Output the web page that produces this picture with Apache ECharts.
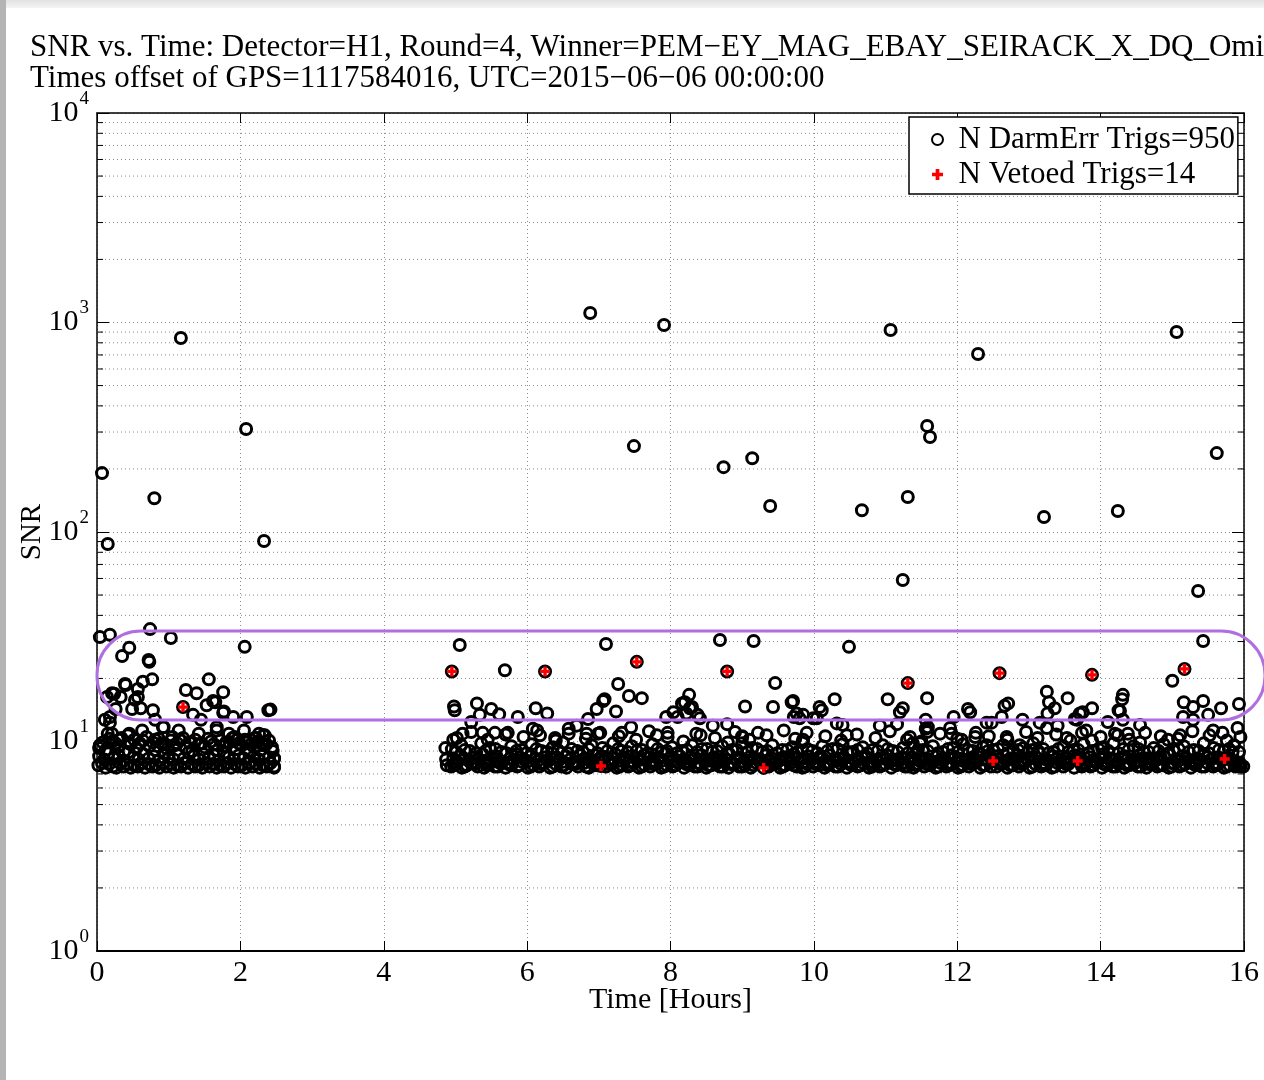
<!DOCTYPE html>
<html>
<head>
<meta charset="utf-8">
<title>SNR vs. Time</title>
<script src="https://cdn.jsdelivr.net/npm/echarts@6.0.0/dist/echarts.min.js"></script>
<style>
  html, body { margin: 0; padding: 0; background: #fff; }
  #main { width: 1264px; height: 1080px; }
</style>
</head>
<body>
<div id="main"></div>
<script>
// [time in hours, SNR]
var outlierTrigs = [
  [0.07,191],[0.15,87.6],[0.80,145],[1.17,843],[2.08,310],[2.33,90.6],[6.88,1110],[7.49,257],
  [7.91,973],[8.74,204],[9.14,225],[9.39,133],[10.67,127],[11.07,921],[11.24,59],[11.31,147],
  [11.58,321],[11.62,284],[12.29,707],[13.21,118],[14.24,126],[15.06,901],[15.36,52.3],[15.62,238]
];

var upperTrigs = [
  [0.04,31.5],[0.18,32.3],[0.74,34.4],[1.03,31.2],[2.06,28.3],[0.35,25.6],[0.45,28.0],[0.72,24.5],[0.73,24.0],
  [0.77,19.8],[0.64,19.3],[0.40,18.6],[0.57,17.8],[0.24,16.9],[0.33,16.3],[0.14,16.3],[0.57,16.3],[1.56,19.8],
  [1.24,17.6],[1.39,17.0],[1.76,17.2],[1.62,15.6],[1.65,15.4],[1.53,14.9],[0.49,14.3],[0.61,14.4],[0.78,14.1],
  [0.26,14.3],[0.18,13.1],[0.18,12.3],[0.15,10.9],[2.39,14.1],[2.42,14.2],[1.34,13.4],[1.77,13.9],[1.76,13.7],
  [1.90,13.1],[2.09,13.1],[0.81,12.7],[0.92,11.7],[1.45,12.7],[1.14,11.3],[0.43,10.7],[1.67,11.7],[1.92,10.5],
  [2.22,10.4],[2.32,10.7],[0.21,17.0],[0.39,18.8],[0.53,15.8],[0.11,12.7],[0.21,10.9],[0.45,10.9],[0.63,11.3],
  [0.93,11.7],[1.05,10.5],[1.42,10.9],[1.67,11.3],[1.84,10.9],[2.05,11.3],[2.26,10.9],[2.34,10.7],[1.95,10.2],
  [2.09,9.9],[2.20,10.4],[2.30,9.8],[2.44,9.4],[2.47,8.3],[2.47,7.6],[0.31,10.2],[0.45,9.8],[0.03,9.3],
  [0.81,10.2],[1.15,10.2],
  [5.06,28.9],[7.10,29.2],[8.69,30.5],[9.16,30.2],[10.49,28.3],[15.43,30.2],[5.69,21.9],
  [7.27,18.8],[7.42,16.5],[7.60,16.1],[7.08,15.9],[6.97,14.3],[7.24,13.9],[7.06,15.6],[9.46,19.0],[9.04,14.7],
  [9.43,14.6],[9.71,15.6],[10.29,15.9],[8.26,16.7],[8.20,15.4],[8.27,14.4],[4.98,14.7],[4.99,14.1],[5.30,15.2],
  [5.34,13.4],[5.50,14.3],[5.61,13.5],[5.87,13.1],[6.12,14.4],[6.28,13.6],[5.22,12.4],[6.69,11.9],[6.85,12.8],
  [7.45,11.7],[8.59,11.9],[8.79,12.1],[9.76,13.6],[9.80,12.9],[10.04,12.9],[10.08,14.6],[10.32,12.2],[8.41,12.9],
  [8.10,13.1],[9.00,10.6],[9.22,11.0],[8.42,10.7],
  [11.03,15.9],[11.58,16.1],[11.24,14.4],[11.20,13.8],[11.16,12.1],[10.92,11.9],[11.56,12.7],[11.59,11.7],
  [11.58,11.1],[11.95,13.1],[12.15,14.3],[12.18,13.8],[12.41,12.3],[12.48,12.3],[12.62,13.1],[12.66,14.8],
  [12.71,15.2],[12.91,12.7],[13.15,12.3],[13.25,17.3],[13.28,15.4],[13.36,14.4],[13.26,13.6],[13.40,11.9],
  [13.54,16.1],[13.64,12.8],[13.71,13.6],[13.88,14.4],[14.10,12.4],[14.25,14.1],[14.30,15.9],[14.31,16.7],
  [14.31,12.7],[14.55,12.0],[15.00,19.5],[15.16,15.4],[15.43,15.6],[15.29,14.6],[15.15,13.1],[15.50,13.4],
  [15.68,14.4],[15.93,15.1],[15.91,11.6],
  [8.16,15.2],[8.30,14.6],[8.38,13.4],[7.94,13.1],[8.04,13.8],[9.69,15.4],[9.72,13.1],[9.85,13.4],[10.11,14.1],
  [9.99,12.9],[8.22,13.6],
  [4.86,9.3],[4.87,8.2],[4.88,7.7],[4.97,10.2],[5.10,10.9],[5.38,11.0],[5.55,11.0],[5.73,11.0],[6.08,11.5],
  [6.18,10.7],[6.39,10.4],[6.83,10.9],[6.99,10.9],[7.32,11.0],[7.81,10.7],[7.96,11.0],[8.80,9.9],[9.00,10.5],
  [9.85,10.2],[10.40,12.0],[10.46,10.7],[11.30,10.2],[11.48,9.8],[11.90,11.6],[11.92,10.9],[12.25,10.5],
  [12.06,10.2],[12.41,9.6],[12.69,10.5],[12.87,9.6],[13.05,9.1],[13.25,11.6],[13.53,10.4],[13.74,11.0],
  [13.88,10.1],[14.02,9.3],[14.24,10.7],[14.38,10.9],[14.55,9.9],[14.94,10.2],[15.11,10.7],[15.57,11.3],
  [15.70,11.0],[15.84,8.9],[15.99,7.6],[13.75,13.8],[13.67,12.7],[14.27,14.0],[15.29,12.7],[11.56,11.5],[6.58,11.5]
];

var bandTrigs = [
  // first stretch, 0 - 2.5 h
  [0.02,7.7],[0.07,7.9],[0.12,7.5],[0.17,7.8],[0.22,7.6],[0.27,7.5],[0.32,7.9],[0.37,7.6],[0.42,7.8],[0.47,7.5],
  [0.52,7.7],[0.57,7.6],[0.62,7.9],[0.67,7.5],[0.72,7.8],[0.77,7.6],[0.82,7.7],[0.87,7.5],[0.92,7.9],[0.97,7.6],
  [1.02,7.8],[1.07,7.5],[1.12,7.7],[1.17,7.6],[1.22,7.9],[1.27,7.5],[1.32,7.8],[1.37,7.6],[1.42,7.7],[1.47,7.5],
  [1.52,7.9],[1.57,7.6],[1.62,7.8],[1.67,7.5],[1.72,7.7],[1.77,7.6],[1.82,7.9],[1.87,7.5],[1.92,7.8],[1.97,7.6],
  [2.02,7.7],[2.07,7.5],[2.12,7.9],[2.17,7.6],[2.22,7.8],[2.27,7.5],[2.32,7.7],[2.37,7.6],[2.42,7.9],[2.47,7.5],
  [0.03,8.5],[0.10,8.2],[0.16,8.8],[0.23,8.3],[0.30,8.6],[0.37,8.1],[0.44,8.9],[0.51,8.4],[0.58,8.2],[0.65,8.7],
  [0.72,8.3],[0.79,8.5],[0.86,8.1],[0.93,8.8],[1.00,8.4],[1.07,8.2],[1.14,8.6],[1.21,8.3],[1.28,8.9],[1.35,8.5],
  [1.42,8.2],[1.49,8.7],[1.56,8.3],[1.63,8.6],[1.70,8.1],[1.77,8.8],[1.84,8.4],[1.91,8.2],[1.98,8.6],[2.05,8.3],
  [2.12,8.9],[2.19,8.5],[2.26,8.2],[2.33,8.7],[2.40,8.4],[2.47,8.3],
  [0.04,9.6],[0.12,9.1],[0.21,10.0],[0.29,9.4],[0.38,9.0],[0.47,9.7],[0.55,9.3],[0.64,10.1],[0.73,9.5],[0.81,9.1],
  [0.90,9.8],[0.98,9.2],[1.07,9.6],[1.16,10.2],[1.24,9.3],[1.33,9.0],[1.42,9.7],[1.50,9.4],[1.59,10.0],[1.68,9.1],
  [1.76,9.5],[1.85,9.9],[1.94,9.2],[2.02,9.6],[2.11,9.0],[2.19,9.4],[2.28,9.1],[2.36,9.7],[2.45,9.0],
  [0.08,9.9],[0.17,10.3],[0.26,9.8],[0.34,10.4],[0.43,9.9],[0.52,10.2],[0.60,9.8],[0.69,10.5],[0.78,9.9],[0.86,10.3],
  [0.95,9.7],[1.03,10.1],[1.12,9.8],[1.20,10.4],[1.29,9.9],[1.37,10.2],[1.46,9.8],[1.55,10.3],[1.63,9.7],[1.72,10.1],
  [1.80,9.9],[1.89,10.4],[1.98,9.8],[2.06,10.2],[2.15,9.7],[2.24,10.0],[2.32,9.6],[2.40,10.1],
  // second stretch, 4.9 - 16 h
  [4.94,7.6],[5.01,7.8],[5.09,7.5],[5.16,7.7],[5.24,7.9],[5.31,7.6],[5.40,7.5],[5.47,7.8],[5.55,7.6],[5.62,7.9],
  [5.70,7.5],[5.78,7.7],[5.86,7.6],[5.93,8.0],[6.01,7.5],[6.09,7.7],[6.17,7.6],[6.24,7.9],[6.32,7.5],[6.40,7.8],
  [6.48,7.6],[6.55,7.5],[6.63,7.8],[6.71,7.6],[6.79,7.9],[6.86,7.5],[6.94,7.7],[7.10,7.6],[7.18,7.8],[7.25,7.5],
  [7.33,7.7],[7.41,7.6],[7.49,7.9],[7.56,7.5],[7.64,7.7],[7.72,7.6],[7.80,7.8],[7.87,7.5],[7.95,7.7],[8.03,7.6],
  [8.11,7.9],[8.19,7.5],[8.26,7.7],[8.34,7.6],[8.42,7.8],[8.50,7.5],[8.57,7.7],[8.65,7.9],[8.73,7.6],[8.81,7.5],
  [8.88,7.8],[8.96,7.6],[9.04,7.7],[9.12,7.5],[9.20,7.9],[9.37,7.6],[9.45,7.8],[9.53,7.5],[9.60,7.7],[9.68,7.9],
  [9.76,7.6],[9.84,7.5],[9.91,7.8],[9.99,7.6],[10.07,7.7],[10.15,7.5],[10.22,7.9],[10.30,7.6],[10.38,7.8],[10.46,7.5],
  [10.53,7.7],[10.61,7.6],[10.69,7.9],[10.77,7.5],[10.84,7.7],[10.92,7.6],[11.00,7.8],[11.08,7.5],[11.15,7.7],[11.23,7.9],
  [11.31,7.6],[11.39,7.5],[11.46,7.8],[11.54,7.6],[11.62,7.7],[11.70,7.5],[11.77,7.9],[11.85,7.6],[11.93,7.8],[12.01,7.5],
  [12.08,7.7],[12.16,7.6],[12.24,7.9],[12.32,7.5],[12.39,7.7],[12.47,7.6],[12.62,7.8],[12.70,7.5],[12.78,7.7],[12.86,7.6],
  [12.93,7.9],[13.01,7.5],[13.09,7.8],[13.17,7.6],[13.24,7.7],[13.32,7.5],[13.40,7.9],[13.48,7.6],[13.55,7.8],[13.63,7.5],
  [13.78,7.7],[13.86,7.6],[13.94,7.9],[14.02,7.5],[14.09,7.7],[14.17,7.6],[14.25,7.8],[14.33,7.5],[14.40,7.7],[14.48,7.9],
  [14.56,7.6],[14.64,7.5],[14.71,7.8],[14.79,7.6],[14.87,7.7],[14.95,7.5],[15.02,7.9],[15.10,7.6],[15.18,7.8],[15.26,7.5],
  [15.33,7.7],[15.41,7.6],[15.49,7.9],[15.57,7.6],[15.64,7.8],[15.72,7.5],[15.80,7.7],[15.88,7.6],[15.95,7.6],
  [4.98,7.7],[5.13,7.6],[5.28,7.8],[5.44,7.7],[5.59,7.6],[5.74,7.8],[5.89,7.7],[6.05,7.6],[6.20,7.8],[6.36,7.6],
  [6.51,7.7],[6.67,7.8],[6.82,7.6],[6.98,7.7],[7.14,7.8],[7.29,7.6],[7.45,7.7],[7.60,7.6],[7.76,7.8],[7.91,7.6],
  [8.07,7.7],[8.22,7.8],[8.38,7.6],[8.53,7.7],[8.69,7.6],[8.84,7.8],[9.00,7.6],[9.16,7.7],[9.41,7.8],[9.57,7.6],
  [9.72,7.7],[9.88,7.6],[10.03,7.8],[10.19,7.7],[10.34,7.6],[10.50,7.8],[10.65,7.7],[10.81,7.6],[10.96,7.7],[11.12,7.8],
  [11.27,7.6],[11.43,7.7],[11.58,7.8],[11.74,7.6],[11.89,7.7],[12.05,7.6],[12.20,7.8],[12.36,7.7],[12.55,7.6],[12.74,7.7],
  [12.90,7.8],[13.05,7.6],[13.21,7.7],[13.36,7.6],[13.52,7.8],[13.74,7.6],[13.90,7.7],[14.05,7.8],[14.21,7.6],[14.37,7.7],
  [14.52,7.6],[14.67,7.8],[14.83,7.7],[14.99,7.6],[15.14,7.7],[15.30,7.8],[15.45,7.6],[15.61,7.7],[15.76,7.6],[15.92,7.7],
  [5.02,8.0],[5.12,8.3],[5.22,7.9],[5.33,8.2],[5.42,8.0],[5.52,8.4],[5.61,8.1],[5.72,7.9],[5.81,8.2],[5.90,8.4],
  [6.00,8.0],[6.11,8.3],[6.21,7.9],[6.30,8.1],[6.41,8.4],[6.50,8.0],[6.60,8.2],[6.70,7.9],[6.80,8.3],[6.89,8.0],
  [6.99,8.2],[7.09,8.4],[7.19,7.9],[7.29,8.1],[7.38,8.3],[7.48,8.0],[7.59,8.2],[7.69,8.4],[7.78,7.9],[7.88,8.1],
  [7.98,8.3],[8.08,8.0],[8.18,8.2],[8.28,8.4],[8.38,7.9],[8.48,8.1],[8.58,8.3],[8.67,8.0],[8.77,8.2],[8.87,7.9],
  [8.97,8.4],[9.07,8.1],[9.17,8.3],[9.27,8.0],[9.38,8.2],[9.47,7.9],[9.57,8.4],[9.67,8.1],[9.77,8.3],[9.87,8.0],
  [9.97,8.2],[10.07,8.4],[10.17,7.9],[10.27,8.1],[10.37,8.3],[10.47,8.0],[10.57,8.2],[10.67,8.4],[10.77,7.9],[10.87,8.1],
  [10.97,8.3],[11.07,8.0],[11.17,8.2],[11.27,7.9],[11.37,8.4],[11.47,8.1],[11.57,8.3],[11.67,8.0],[11.77,8.2],[11.87,7.9],
  [11.97,8.4],[12.07,8.1],[12.17,8.3],[12.27,8.0],[12.37,8.2],[12.47,8.4],[12.57,7.9],[12.69,8.1],[12.79,8.3],[12.89,8.0],
  [12.99,8.2],[13.09,8.4],[13.19,7.9],[13.29,8.1],[13.39,8.3],[13.49,8.0],[13.59,8.2],[13.69,8.4],[13.79,7.9],[13.89,8.1],
  [13.99,8.3],[14.09,8.0],[14.19,8.2],[14.29,8.4],[14.39,7.9],[14.49,8.1],[14.59,8.3],[14.69,8.0],[14.79,8.2],[14.89,8.4],
  [14.99,7.9],[15.09,8.1],[15.19,8.3],[15.29,8.0],[15.39,8.2],[15.49,8.4],[15.59,7.9],[15.69,8.1],[15.79,8.3],[15.89,8.0],
  [4.97,8.3],[5.07,8.6],[5.18,8.1],[5.27,8.4],[5.38,8.7],[5.46,8.2],[5.57,8.5],[5.66,8.0],[5.76,8.3],[5.85,8.7],
  [5.96,8.2],[6.05,8.5],[6.15,8.1],[6.26,8.4],[6.35,8.8],[6.45,8.2],[6.54,8.5],[6.65,8.0],[6.74,8.6],[6.84,8.3],
  [6.93,8.1],[7.04,8.5],[7.14,8.2],[7.23,8.7],[7.34,8.4],[7.43,8.0],[7.54,8.3],[7.63,8.6],[7.74,8.1],[7.83,8.4],
  [7.93,8.8],[8.04,8.2],[8.13,8.5],[8.23,8.0],[8.33,8.3],[8.43,8.6],[8.53,8.1],[8.62,8.4],[8.72,8.2],[8.82,8.7],
  [8.92,8.3],[9.02,8.0],[9.12,8.5],[9.22,8.2],[9.33,8.6],[9.42,8.3],[9.52,8.1],[9.62,8.4],[9.72,8.7],[9.82,8.2],
  [9.92,8.5],[10.02,8.0],[10.12,8.3],[10.22,8.6],[10.32,8.1],[10.42,8.4],[10.52,8.8],[10.62,8.2],[10.72,8.5],[10.82,8.0],
  [10.92,8.3],[11.02,8.6],[11.12,8.2],[11.22,8.4],[11.33,8.1],[11.42,8.7],[11.52,8.3],[11.62,8.0],[11.72,8.5],[11.82,8.2],
  [11.92,8.6],[12.02,8.3],[12.12,8.1],[12.22,8.4],[12.32,8.7],[12.42,8.2],[12.54,8.5],[12.64,8.0],[12.74,8.3],[12.84,8.6],
  [12.94,8.1],[13.04,8.4],[13.14,8.8],[13.24,8.2],[13.34,8.5],[13.44,8.0],[13.54,8.3],[13.64,8.6],[13.74,8.2],[13.84,8.4],
  [13.94,8.1],[14.04,8.7],[14.14,8.3],[14.24,8.0],[14.34,8.5],[14.44,8.2],[14.54,8.6],[14.64,8.3],[14.74,8.1],[14.84,8.4],
  [14.94,8.7],[15.04,8.2],[15.14,8.5],[15.24,8.0],[15.34,8.3],[15.44,8.6],[15.54,8.2],[15.64,8.4],[15.84,8.1],[15.94,7.9],
  [5.01,8.9],[5.13,9.1],[5.29,8.8],[5.42,9.0],[5.56,9.2],[5.71,8.8],[5.85,9.0],[5.99,8.8],[6.13,9.2],[6.28,8.9],
  [6.43,9.1],[6.57,8.8],[6.70,9.0],[6.86,9.2],[6.98,8.8],[7.12,9.0],[7.27,9.2],[7.40,8.9],[7.53,9.0],[7.68,8.8],
  [7.82,9.2],[7.95,9.0],[8.09,8.8],[8.23,9.1],[8.37,8.9],[8.51,9.2],[8.65,9.0],[8.79,8.8],[8.93,9.1],[9.07,8.9],
  [9.21,9.2],[9.35,9.0],[9.49,8.8],[9.63,9.1],[9.77,8.9],[9.91,9.2],[10.05,8.8],[10.19,9.0],[10.33,9.2],[10.47,8.9],
  [10.61,9.1],[10.75,8.8],[10.89,9.0],[11.03,9.2],[11.17,8.9],[11.31,8.8],[11.45,9.1],[11.59,9.0],[11.73,8.8],[11.87,9.2],
  [12.01,8.9],[12.15,9.1],[12.29,8.8],[12.43,9.0],[12.57,9.2],[12.71,8.8],[12.85,9.1],[12.99,8.9],[13.13,9.0],[13.27,8.8],
  [13.41,9.2],[13.55,8.9],[13.69,9.1],[13.83,8.8],[13.97,9.2],[14.11,9.0],[14.25,8.8],[14.39,9.1],[14.53,9.2],[14.67,8.9],
  [14.81,9.0],[14.95,8.8],[15.09,9.2],[15.23,8.9],[15.37,9.0],[15.51,8.8],[15.65,9.1],[15.79,9.2],[15.93,8.9],
  [4.95,9.2],[5.08,9.6],[5.20,9.0],[5.36,9.8],[5.48,9.3],[5.64,8.9],[5.78,9.5],[5.92,9.1],[6.06,9.7],[6.20,9.0],
  [6.36,9.4],[6.50,9.9],[6.62,9.2],[6.78,8.9],[6.90,9.6],[7.05,9.3],[7.20,9.8],[7.32,9.0],[7.46,9.5],[7.60,9.1],
  [7.75,9.7],[7.88,8.9],[8.02,9.4],[8.16,9.0],[8.30,9.6],[8.44,9.2],[8.58,8.9],[8.72,9.5],[8.86,9.1],[9.00,9.8],
  [9.14,9.3],[9.28,8.9],[9.42,9.6],[9.56,9.1],[9.70,9.4],[9.84,9.9],[9.98,9.0],[10.12,9.5],[10.26,9.2],[10.40,9.7],
  [10.54,8.9],[10.68,9.4],[10.82,9.1],[10.96,9.6],[11.10,9.0],[11.24,9.3],[11.38,9.8],[11.52,9.1],[11.66,9.5],[11.80,8.9],
  [11.94,9.3],[12.08,9.7],[12.22,9.0],[12.36,9.4],[12.50,9.1],[12.64,9.6],[12.78,9.0],[12.92,9.3],[13.06,9.8],[13.20,9.2],
  [13.34,8.9],[13.48,9.5],[13.62,9.1],[13.76,9.7],[13.90,9.0],[14.04,9.4],[14.18,9.8],[14.32,9.2],[14.46,9.5],[14.60,8.9],
  [14.74,9.3],[14.88,9.7],[15.02,9.0],[15.16,9.5],[15.30,9.1],[15.44,9.8],[15.58,9.3],[15.72,9.0],[15.86,9.6],
  [5.02,10.4],[5.22,11.1],[5.45,10.2],[5.70,10.8],[5.95,10.5],[6.14,11.3],[6.40,10.1],[6.58,10.9],[6.82,10.3],[7.02,11.0],
  [7.28,10.6],[7.52,10.2],[7.70,11.2],[7.96,10.5],[8.18,10.0],[8.36,10.9],[8.62,10.4],[8.90,11.1],[9.10,10.2],[9.34,10.7],
  [9.58,11.3],[9.74,10.3],[9.90,11.0],[10.16,10.6],[10.38,10.1],[10.60,10.8],[10.86,10.4],[11.06,11.2],[11.34,10.5],[11.50,10.0],
  [11.76,10.9],[12.00,10.3],[12.26,11.0],[12.44,10.6],[12.70,10.2],[12.96,11.1],[13.12,10.4],[13.38,10.8],[13.58,10.1],[13.80,11.3],
  [14.00,10.5],[14.20,10.9],[14.40,10.2],[14.62,11.0],[14.84,10.6],[15.08,10.3],[15.28,11.2],[15.52,10.7],[15.76,10.1],[15.95,10.5]
];

var vetoedTrigs = [
  [1.20,14.6],[4.95,21.6],[6.25,21.6],[7.53,24.0],[8.79,21.6],[11.31,19.0],[12.59,21.2],
  [13.88,20.8],[15.17,22.2],[7.03,7.64],[9.30,7.48],[12.50,8.07],[13.68,8.07],[15.73,8.25]
];

var minorGrid = [2,3,4,5,6,7,8,9, 20,30,40,50,60,70,80,90, 200,300,400,500,600,700,800,900,
  2000,3000,4000,5000,6000,7000,8000,9000];

var darmName = 'N DarmErr Trigs=950';
var vetoName = 'N Vetoed Trigs=14';
var serif = 'Liberation Serif';
var plusPath = 'path://M3,0H6V3H9V6H6V9H3V6H0V3H3Z';
var gridDots = '#8c8c8c';

var chart = echarts.init(document.getElementById('main'));

var option = {
  animation: false,
  backgroundColor: '#fff',
  title: {
    text: 'SNR vs. Time: Detector=H1, Round=4, Winner=PEM\u2212EY_MAG_EBAY_SEIRACK_X_DQ_Omicron\nTimes offset of GPS=1117584016, UTC=2015\u221206\u221206 00:00:00',
    left: 30,
    top: 32,
    padding: 0,
    textStyle: { fontFamily: serif, fontSize: 31, lineHeight: 31, fontWeight: 'normal', color: '#000' }
  },
  legend: {
    orient: 'vertical',
    left: 909,
    top: 117,
    padding: [7, 3, 4, 22],
    itemGap: 4,
    itemWidth: 32,
    itemHeight: 11,
    selectedMode: false,
    borderColor: '#000',
    borderWidth: 1.5,
    backgroundColor: '#fff',
    textStyle: { fontFamily: serif, fontSize: 31, lineHeight: 30, color: '#000' },
    data: [{ name: darmName, icon: 'circle' }, { name: vetoName, icon: plusPath }],
    z: 20
  },
  grid: { left: 97, right: 20, top: 113, bottom: 129 },
  xAxis: [{
    type: 'value',
    min: 0, max: 16, interval: 2,
    name: 'Time [Hours]',
    nameLocation: 'middle',
    nameGap: 34,
    nameMoveOverlap: false,
    nameTextStyle: { fontFamily: serif, fontSize: 30, color: '#000' },
    axisLine: { show: true, onZero: false, lineStyle: { color: '#000', width: 2 } },
    axisTick: { inside: true, length: 10, lineStyle: { color: '#000' } },
    axisLabel: { fontFamily: serif, fontSize: 30, color: '#000', margin: 7 },
    splitLine: { show: true, lineStyle: { color: gridDots, type: [1, 3] } }
  }, {
    type: 'value', position: 'top',
    min: 0, max: 16, interval: 2,
    axisLine: { show: true, onZero: false, lineStyle: { color: '#000', width: 1.5 } },
    axisTick: { inside: true, length: 10, lineStyle: { color: '#000' } },
    axisLabel: { show: false },
    splitLine: { show: false }
  }],
  yAxis: [{
    type: 'log', logBase: 10,
    min: 1, max: 10000,
    name: 'SNR',
    nameLocation: 'middle',
    nameGap: 50,
    nameMoveOverlap: false,
    nameTextStyle: { fontFamily: serif, fontSize: 29, color: '#000' },
    axisLine: { show: true, onZero: false, lineStyle: { color: '#000', width: 1.5 } },
    axisTick: { inside: true, length: 12, lineStyle: { color: '#000' } },
    axisLabel: {
      margin: 8,
      formatter: function (v) {
        return '{b|10}{s|' + Math.round(Math.log10(v)) + '}';
      },
      rich: {
        b: { fontFamily: serif, fontSize: 30, color: '#000' },
        s: { fontFamily: serif, fontSize: 19, color: '#000', padding: [0, 0, 28, 1] }
      }
    },
    splitLine: { show: true, lineStyle: { color: gridDots, type: [1, 3] } }
  }, {
    type: 'log', logBase: 10, position: 'right',
    min: 1, max: 10000,
    axisLine: { show: true, onZero: false, lineStyle: { color: '#000', width: 1.5 } },
    axisTick: { inside: true, length: 12, lineStyle: { color: '#000' } },
    axisLabel: { show: false },
    splitLine: { show: false }
  }],
  series: [{
    // minor log grid lines plus the short minor ticks on both y axes
    type: 'custom',
    silent: true,
    z: 1,
    data: minorGrid.map(function (v) { return [0, v]; }),
    renderItem: function (params, api) {
      var v = api.value(1);
      var a = api.coord([0, v]);
      var b = api.coord([16, v]);
      return {
        type: 'group',
        children: [
          { type: 'line', shape: { x1: a[0], y1: a[1], x2: b[0], y2: b[1] },
            style: { stroke: gridDots, lineWidth: 1, lineDash: [1, 3] } },
          { type: 'line', shape: { x1: a[0], y1: a[1], x2: a[0] + 6, y2: a[1] },
            style: { stroke: '#000', lineWidth: 1 } },
          { type: 'line', shape: { x1: b[0] - 6, y1: b[1], x2: b[0], y2: b[1] },
            style: { stroke: '#000', lineWidth: 1 } }
        ]
      };
    }
  }, {
    name: darmName,
    type: 'scatter',
    symbol: 'circle',
    symbolSize: 11,
    z: 3,
    itemStyle: { color: 'rgba(0,0,0,0)', borderColor: '#000', borderWidth: 3, opacity: 1 },
    data: bandTrigs.concat(upperTrigs, outlierTrigs, vetoedTrigs)
  }, {
    name: vetoName,
    type: 'scatter',
    symbol: plusPath,
    symbolSize: 10,
    z: 4,
    itemStyle: { color: '#ff0000', opacity: 1 },
    data: vetoedTrigs
  }],
  graphic: [
    { type: 'rect', z: 0, silent: true,
      shape: { x: 0, y: 0, width: 1264, height: 8 },
      style: { fill: new echarts.graphic.LinearGradient(0, 0, 0, 1, [
        { offset: 0, color: '#e2e2e2' }, { offset: 1, color: '#f4f4f4' }]) } },
    { type: 'rect', z: 0, silent: true,
      shape: { x: 0, y: 0, width: 6, height: 1080 },
      style: { fill: '#b4b4b4' } },
    { type: 'rect', z: 100, silent: true,
      shape: { x: 97, y: 631, width: 1168, height: 89, r: 44 },
      style: { fill: 'none', stroke: '#b06fe0', lineWidth: 3 } }
  ]
};

chart.setOption(option);
</script>
</body>
</html>
